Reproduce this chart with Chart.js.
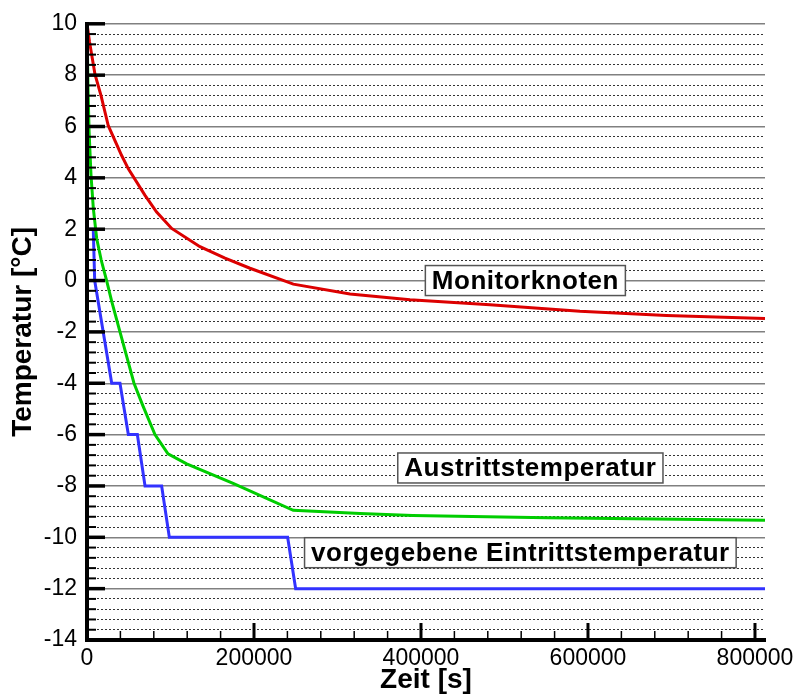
<!DOCTYPE html>
<html>
<head>
<meta charset="utf-8">
<script src="https://cdn.jsdelivr.net/npm/chart.js@4.4.1/dist/chart.umd.min.js"></script>
<style>
  body { margin: 0; background: #fff; }
  canvas { display: block; }
</style>
</head>
<body>
<canvas id="temperaturChart" width="801" height="698"></canvas>
<script>
// Monitorknoten (rot)
const monitorZeit = [0, 3000, 9600, 16800, 25500, 41500, 49500, 69500, 83400, 101400, 135300, 165300, 195200, 247100, 315000, 386800, 482600, 590400, 694000, 812000];
const monitorTemp = [10, 9.3, 8.03, 7.2, 6.03, 4.87, 4.35, 3.32, 2.67, 2.03, 1.32, 0.87, 0.48, -0.14, -0.52, -0.75, -0.94, -1.2, -1.36, -1.48];

// Austrittstemperatur (gruen)
const austrittZeit = [0, 1200, 2500, 4800, 7600, 11600, 17000, 23500, 29600, 39500, 56300, 67000, 81400, 97000, 119400, 175000, 247000, 327000, 390000, 551000, 812000];
const austrittTemp = [10, 7.5, 5.8, 4.1, 2.8, 1.64, 0.8, 0, -0.81, -2, -4, -4.88, -6, -6.75, -7.14, -7.9, -8.95, -9.07, -9.15, -9.24, -9.34];

// vorgegebene Eintrittstemperatur (blau, Stufen)
const eintrittZeit = [0, 7500, 9200, 29600, 39500, 49500, 60300, 69500, 89400, 98600, 240300, 249900, 812000];
const eintrittTemp = [2, 2, 0, -4, -4, -6, -6, -8, -8, -10, -10, -12, -12];

// Achsen
const zeitMax = 812000;
const zeitHaupt = 200000;
const zeitNeben = 40000;
const tempMin = -14;
const tempMax = 10;
const tempHaupt = 2;
const tempNeben = 0.4;

// Beschriftungen im Diagramm
const beschriftungen = [
  { text: 'Monitorknoten', x: 525000, y: 0 },
  { text: 'Austrittstemperatur', x: 531000, y: -7.3 },
  { text: 'vorgegebene Eintrittstemperatur', x: 519000, y: -10.6 }
];

const punkte = (xs, ys) => xs.map((x, i) => ({ x: x, y: ys[i] }));
const istVielfaches = (v, s) => Math.abs(v / s - Math.round(v / s)) < 1e-6;

const schrift = '"Liberation Sans", Arial, sans-serif';

// Ticks nach innen + Textkaesten
const innenTicks = {
  id: 'innenTicks',
  afterDatasetsDraw(chart) {
    const { ctx, chartArea, scales } = chart;
    ctx.save();
    ctx.strokeStyle = '#000';
    ctx.lineCap = 'butt';

    scales.y.ticks.forEach(t => {
      const py = scales.y.getPixelForValue(t.value);
      const gross = istVielfaches(t.value, tempHaupt);
      ctx.lineWidth = gross ? 3.5 : 2;
      ctx.beginPath();
      ctx.moveTo(chartArea.left, py);
      ctx.lineTo(chartArea.left + (gross ? 18 : 9), py);
      ctx.stroke();
    });

    scales.x.ticks.forEach(t => {
      const px = scales.x.getPixelForValue(t.value);
      const gross = istVielfaches(t.value, zeitHaupt);
      ctx.lineWidth = gross ? 3 : 1.5;
      ctx.beginPath();
      ctx.moveTo(px, chartArea.bottom);
      ctx.lineTo(px, chartArea.bottom - (gross ? 17 : 9));
      ctx.stroke();
    });

    // Achslinien
    ctx.lineWidth = 4;
    ctx.beginPath();
    ctx.moveTo(chartArea.left, chartArea.top);
    ctx.lineTo(chartArea.left, chartArea.bottom);
    ctx.lineTo(chartArea.right, chartArea.bottom);
    ctx.stroke();

    // Kaesten
    ctx.font = 'bold 26px ' + schrift;
    ctx.letterSpacing = '0.5px';
    ctx.textAlign = 'center';
    ctx.textBaseline = 'middle';
    beschriftungen.forEach(b => {
      const cx = scales.x.getPixelForValue(b.x);
      const cy = scales.y.getPixelForValue(b.y);
      const w = ctx.measureText(b.text).width + 13;
      const h = 30;
      ctx.fillStyle = '#fff';
      ctx.fillRect(cx - w / 2, cy - h / 2, w, h);
      ctx.strokeStyle = '#555';
      ctx.lineWidth = 1.5;
      ctx.strokeRect(cx - w / 2, cy - h / 2, w, h);
      ctx.fillStyle = '#000';
      ctx.fillText(b.text, cx, cy + 1);
    });
    ctx.restore();
  }
};

const linie = (label, daten, farbe) => ({
  label: label,
  data: daten,
  borderColor: farbe,
  backgroundColor: farbe,
  borderWidth: 3,
  pointRadius: 0,
  tension: 0,
  fill: false
});

new Chart(document.getElementById('temperaturChart'), {
  type: 'line',
  data: {
    datasets: [
      linie('Monitorknoten', punkte(monitorZeit, monitorTemp), 'rgb(220, 0, 0)'),
      linie('Austrittstemperatur', punkte(austrittZeit, austrittTemp), 'rgb(0, 205, 0)'),
      linie('vorgegebene Eintrittstemperatur', punkte(eintrittZeit, eintrittTemp), 'rgb(50, 50, 255)')
    ]
  },
  options: {
    responsive: false,
    animation: false,
    devicePixelRatio: 1,
    layout: { padding: { top: 21, right: 36, left: 0, bottom: 0 } },
    plugins: { legend: { display: false }, tooltip: { enabled: false } },
    scales: {
      x: {
        type: 'linear',
        min: 0,
        max: zeitMax,
        // feste Teilung alle 40000 s, Beschriftung alle 200000 s
        afterBuildTicks: s => {
          const t = [];
          for (let v = 0; v <= zeitMax; v += zeitNeben) t.push({ value: v });
          s.ticks = t;
        },
        afterFit: s => { s.height = 58; },
        ticks: {
          autoSkip: false,
          maxRotation: 0,
          padding: 5,
          color: '#000',
          font: { family: schrift, size: 23 },
          callback: v => istVielfaches(v, zeitHaupt) ? String(v) : ''
        },
        grid: { drawOnChartArea: false, drawTicks: false },
        border: { color: '#000', width: 4 },
        title: {
          display: true,
          text: 'Zeit [s]',
          color: '#000',
          font: { family: schrift, size: 28, weight: 'bold' },
          padding: { top: 0, bottom: 1 }
        }
      },
      y: {
        min: tempMin,
        max: tempMax,
        afterFit: s => { s.width = 87; },
        ticks: {
          stepSize: tempNeben,
          autoSkip: false,
          padding: 10,
          color: '#000',
          font: { family: schrift, size: 23 },
          callback: v => istVielfaches(v, tempHaupt) ? String(Math.round(v)) : ''
        },
        grid: {
          drawTicks: false,
          color: c => c.tick && istVielfaches(c.tick.value, tempHaupt) ? '#808080' : '#333',
          lineWidth: c => c.tick && istVielfaches(c.tick.value, tempHaupt) ? 1.5 : 1
        },
        border: {
          color: '#000',
          width: 4,
          dash: c => c.tick && !istVielfaches(c.tick.value, tempHaupt) ? [2, 2] : []
        },
        title: {
          display: true,
          text: 'Temperatur [°C]',
          color: '#000',
          font: { family: schrift, size: 28, weight: 'bold' },
          padding: { top: 6, bottom: 0 }
        }
      }
    }
  },
  plugins: [innenTicks]
});
</script>
</body>
</html>
